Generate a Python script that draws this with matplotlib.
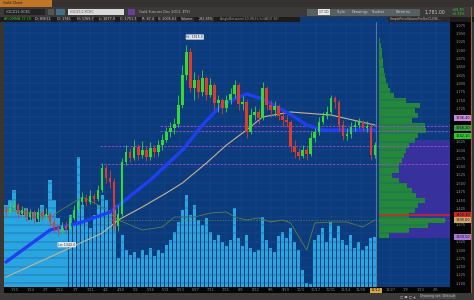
import matplotlib
matplotlib.use('Agg')
import matplotlib.pyplot as plt
from matplotlib.patches import Rectangle
import matplotlib.transforms as mtransforms

# ---------------- data ----------------
closes = [1414,1426,1435,1408,1420,1399,1411,1393,1414,1402,
          1408,1384,1366,1357,1372,1363,1396,1420,1444,1456,
          1444,1462,1453,1480,1546,1516,1504,1372,1408,1564,
          1594,1576,1609,1585,1600,1579,1606,1594,1615,1630,
          1654,1666,1678,1735,1825,1894,1786,1810,1774,1816,
          1765,1795,1741,1750,1726,1750,1768,1795,1738,1744,
          1654,1705,1714,1696,1786,1735,1720,1732,1702,1690,
          1684,1612,1594,1582,1600,1588,1636,1654,1684,1702,
          1714,1756,1744,1675,1642,1648,1669,1675,1684,1666,
          1672,1585,1615]
highs = [1435,1444,1453,1441,1432,1426,1423,1420,1426,1423,
         1426,1414,1396,1378,1384,1387,1408,1435,1456,1474,
         1468,1480,1471,1495,1561,1555,1540,1516,1435,1576,
         1615,1606,1630,1618,1627,1612,1624,1615,1630,1648,
         1669,1684,1696,1765,1855,1915,1906,1834,1825,1840,
         1822,1816,1800,1765,1756,1765,1786,1810,1800,1762,
         1750,1726,1732,1723,1804,1792,1750,1747,1738,1717,
         1705,1690,1630,1606,1615,1612,1654,1666,1699,1714,
         1732,1765,1762,1750,1690,1666,1684,1690,1696,1690,
         1687,1678,1624]
lows = [1402,1408,1420,1396,1399,1387,1390,1381,1384,1390,
        1393,1372,1354,1342,1348,1351,1360,1390,1414,1435,
        1432,1438,1441,1447,1474,1501,1486,1354,1357,1402,
        1555,1564,1570,1570,1576,1567,1570,1579,1582,1600,
        1624,1639,1648,1669,1726,1810,1774,1750,1756,1762,
        1750,1759,1720,1714,1708,1714,1738,1756,1720,1720,
        1636,1648,1690,1678,1690,1720,1699,1702,1690,1672,
        1669,1594,1576,1570,1576,1570,1582,1624,1645,1678,
        1693,1708,1726,1657,1630,1630,1636,1657,1666,1657,
        1654,1570,1576]
first_open = 1420
opens = [first_open] + closes[:-1]

volume = [164,174,194,154,144,158,134,150,130,164,
          144,214,174,138,124,114,144,124,260,164,
          134,118,144,164,184,174,154,164,58,104,
          74,64,70,58,74,64,78,62,74,68,
          84,94,110,130,154,184,144,164,134,124,
          138,110,94,104,90,82,94,158,98,82,
          104,78,70,74,140,94,78,70,102,110,
          98,118,90,74,34,8,6,94,104,118,
          90,130,98,122,94,84,104,78,90,74,
          82,98,100]
vol_ma_idx = [0,7,11,19,24,28,34,39,42,47,51,55,57,60,63,66,69,71,75,77,81,85,89,92]
vol_ma = [154,148,140,180,160,134,114,120,140,140,148,150,140,134,138,130,134,128,74,128,130,130,120,134]

ma_blue_idx = [0,11,19,26,36,44,49,54,60,64,69,72,75,79,85,92]
ma_blue = [1264,1360,1384,1414,1510,1600,1675,1738,1768,1753,1720,1699,1675,1660,1660,1660]
ma_tan_idx = [0,11,24,28,34,40,44,50,55,60,64,71,81,92]
ma_tan = [1219,1279,1351,1390,1429,1471,1501,1561,1615,1660,1699,1714,1705,1675]

profile_prices = [1930,1915,1900,1885,1870,1855,1840,1825,1810,1795,1780,1765,1750,1735,1720,
                  1705,1690,1675,1660,1645,1630,1615,1600,1585,1570,1555,1540,1525,1510,1495,
                  1480,1465,1450,1435,1420,1405,1390,1375,1360,1345]
profile_vol = [1,2,3,3,4,4,5,6,7,9,11,15,27,42,37,40,33,47,48,40,36,30,27,25,23,20,20,13,20,28,
               33,38,47,40,36,30,67,50,30,10]
value_area = (1336, 1630)
poc_price = 1405

level_lines = [1672, 1657, 1612, 1558]
level_starts = [38.5, 38.5, 23.5, 23.5]
olive_line = 1390

axis_tags = [1696, 1666, 1642, 1405, 1390, 1339]
axis_tag_text = ['1696.40', '1666.20', '1642.10', '1405.30', '1390.00', '1339.50']
axis_tag_colors = ['#c98be0', '#3d9a46', '#2ec62e', '#c82828', '#c9a66a', '#a77ad8']

date_labels = ['1/10','1/24','2/7','2/22','3/7','3/21','4/4','4/18','5/2','5/16','5/31','6/13',
               '6/27','7/11','7/25','8/8','8/22','9/6','9/19','10/3','10/17','10/31','11/14',
               '11/28','12/12','12/27','1/9','1/23','2/6']
current_date_index = 24

# ---------------- figure ----------------
W, H = 474, 300
fig = plt.figure(figsize=(W / 100, H / 100), dpi=100)
fig.patch.set_facecolor('#3a3633')
FONT = 'DejaVu Sans'


def fx(px):
    return px / W


def fy(py):
    return 1 - py / H


def rect(x0, y0, x1, y1, color, z=0):
    fig.patches.append(Rectangle((fx(x0), fy(y1)), (x1 - x0) / W, (y1 - y0) / H,
                                 transform=fig.transFigure, facecolor=color,
                                 edgecolor='none', zorder=z))


def ftext(px, py, s, color='#c8c8c8', size=2.8, ha='left', va='center', weight='normal', bg=None):
    kw = {}
    if bg:
        kw['bbox'] = dict(boxstyle='square,pad=0.15', fc=bg, ec='none')
    fig.text(fx(px), fy(py), s, color=color, fontsize=size, ha=ha, va=va,
             family=FONT, fontweight=weight, **kw)


# chrome
rect(0, 0, 474, 7, '#353230')
rect(0, 0, 52, 7, '#c07624')
ftext(3, 3.5, 'Gold Chart', color='#1a1a1a', size=2.6)
rect(0, 6.6, 474, 7.4, '#a9611f')
rect(0, 7.4, 474, 16.5, '#3c3a38')
rect(4, 9, 45, 15, '#232323')
ftext(6, 12, '/GCZ11:XCEC', color='#bdbdbd', size=2.6)
rect(48, 9, 54, 15, '#555555')
rect(56, 9, 65, 15, '#3f6f8a')
rect(68, 9, 124, 15, '#d9d9d9')
ftext(70, 12, '/GCZ11:XCEC', color='#555555', size=2.5)
rect(128, 9, 135, 15, '#6a3d9e')
ftext(139, 12, 'Gold Futures Dec 2011, ETH', color='#bbbbbb', size=2.6)
rect(307, 8.5, 420, 15.5, '#566060')
rect(318, 9.5, 330, 14.5, '#e6e6e6')
ftext(319, 12, '1Y 1D', color='#333333', size=2.3)
ftext(337, 12, 'Style', color='#d0d0d0', size=2.5)
ftext(352, 12, 'Drawings', color='#d0d0d0', size=2.5)
ftext(372, 12, 'Studies', color='#d0d0d0', size=2.5)
ftext(396, 12, 'Patterns', color='#d0d0d0', size=2.5)
ftext(424, 12, '1,781.00', color='#c8c8c8', size=3.3)
ftext(452, 10, '+29.70', color='#3fd13f', size=2.4)
ftext(452, 14, '+1.71%', color='#3fd13f', size=2.4)

rect(0, 16.5, 474, 22, '#1c1c1c')
rect(300, 16.5, 388, 22, '#0b3b7d')
ftext(4, 19.3, 'AF/GMMA 1Y 1D', color='#38c838', size=2.4)
info = ['D: 8/9/11', 'O: 1745', 'H: 1769.7', 'L: 1677.9', 'C: 1751.3', 'R: 87.4', 'V: 2005.61',
        'Volume', '282.85%']
xs = [35, 57, 77, 99, 120, 142, 158, 181, 199]
for s, x in zip(info, xs):
    ftext(x, 19.3, s, color='#cfcfcf', size=2.4, bg='#2b2b2b')
ftext(220, 19.3, 'AngleBetween(10,98,FL,hi)(ADX 30)', color='#8fa08f', size=2.3)
rect(388, 16.5, 450, 22, '#2a2a2a')
ftext(390, 19.3, 'SimplePriceVolumeProfile(CLOSE...', color='#bdbdbd', size=2.2)

# right border (orange) and frame
rect(470.5, 7.4, 471.5, 300, '#a9611f')

# price scale background, date axis background
rect(450, 22, 470.5, 292.5, '#050505')
rect(4, 287, 450, 292.5, '#050505')
rect(0, 292.5, 474, 300, '#3c3a38')
ftext(400, 296.3, '\u25a1 \u25a0 \u25a1 \u25b2', color='#aaaaaa', size=2.4)
ftext(420, 296.3, 'Drawing set: Default', color='#bdbdbd', size=2.4, bg='#4a4a48')

# ---------------- axes ----------------
L, R, T, B = 4, 450, 22, 287
pos = [fx(L), fy(B), (R - L) / W, (B - T) / H]
XL = (-0.5, 110.75)
YL = (1189, 1984)
idx = list(range(len(closes)))

vol_ax = fig.add_axes(pos, zorder=1)
vol_ax.set_facecolor('#0b3b7d')
vol_ax.set_xlim(*XL)
vol_ax.set_ylim(0, 530)
vol_ax.bar(idx, volume, width=0.82, color='#29a6e0', linewidth=0, zorder=2)
vol_ax.plot(vol_ma_idx, vol_ma, color='#5f7f45', lw=0.6, zorder=3)
for s in vol_ax.spines.values():
    s.set_visible(False)
vol_ax.set_yticks([])
tick_pos = [2.25 + 3.75 * k for k in range(len(date_labels))]
vol_ax.set_xticks(tick_pos)
shown_dates = ['' if k == current_date_index else d for k, d in enumerate(date_labels)]
vol_ax.set_xticklabels(shown_dates, fontsize=2.5, color='#8a8a8a', family=FONT)
vol_ax.tick_params(axis='x', length=0, pad=1.0)
vol_ax.grid(True, axis='x', color='#1c4c8c', lw=0.35, zorder=0)

prof_ax = fig.add_axes([fx(379), fy(B), 71 / W, (B - T) / H], zorder=2)
prof_ax.patch.set_alpha(0)
prof_ax.set_xlim(0, 72)
prof_ax.set_ylim(*YL)
prof_ax.axhspan(value_area[0], value_area[1], color='#3a2f9f', lw=0, zorder=1)
prof_ax.barh(profile_prices, profile_vol, height=15, color='#23883a', linewidth=0, zorder=2)
prof_ax.axhline(poc_price, color='#d42424', lw=1.1, zorder=3)
prof_ax.axis('off')

price_ax = fig.add_axes(pos, zorder=3)
price_ax.patch.set_alpha(0)
price_ax.set_xlim(*XL)
price_ax.set_ylim(*YL)
for s in price_ax.spines.values():
    s.set_visible(False)
price_ax.set_xticks([])
price_ax.grid(True, axis='y', color='#1c4c8c', lw=0.35)
price_ax.yaxis.tick_right()
yt = list(range(1200, 1976, 25))
price_ax.set_yticks(yt)
yl = ['' if any(abs(v - t) < 13 for t in axis_tags) else f'{v:,}' for v in yt]
price_ax.set_yticklabels(yl, fontsize=2.6, color='#8c8c8c', family=FONT)
price_ax.tick_params(axis='y', length=0, pad=4)

# horizontal level lines
for lvl, st in zip(level_lines, level_starts):
    price_ax.hlines(lvl, st, XL[1], colors='#a24ad6', lw=0.6, linestyles=(0, (3, 1.5)), zorder=2)
price_ax.hlines(olive_line, 23.5, XL[1], colors='#6f7f3a', lw=0.5, linestyles=(0, (2, 2)), zorder=2)

# moving averages
price_ax.plot(ma_tan_idx, ma_tan, color='#c9b28e', lw=0.8, zorder=3)
price_ax.plot(ma_blue_idx, ma_blue, color='#1f3ff2', lw=2.4, zorder=3, solid_capstyle='round')

# candles
for i in idx:
    o, c, h, l = opens[i], closes[i], highs[i], lows[i]
    col = '#35d835' if c >= o else '#e03a2a'
    price_ax.vlines(i, l, h, colors=col, lw=0.6, zorder=4)
    price_ax.bar(i, max(abs(c - o), 1.5), bottom=min(o, c), width=0.6, color=col,
                 linewidth=0, zorder=5)

# current bar marker
price_ax.axvline(idx[-1] + 0.4, color='#8fa4bb', lw=0.4, zorder=2)

# hi / lo bubbles
hi_i = highs.index(max(highs))
lo_i = lows.index(min(lows))
price_ax.text(hi_i, max(highs) + 18, f'Hi: {max(highs):.1f}', fontsize=2.3, color='#203040',
              ha='left', va='bottom', family=FONT, zorder=6,
              bbox=dict(boxstyle='round,pad=0.2', fc='#dfe6ee', ec='none'))
price_ax.text(lo_i, min(lows) - 20, f'Lo: {min(lows):.1f}', fontsize=2.3, color='#203040',
              ha='left', va='top', family=FONT, zorder=6,
              bbox=dict(boxstyle='round,pad=0.2', fc='#dfe6ee', ec='none'))

# price tags on the right scale
trans = mtransforms.blended_transform_factory(price_ax.transAxes, price_ax.transData)
for p, s, c in zip(axis_tags, axis_tag_text, axis_tag_colors):
    price_ax.text(1.012, p, s, transform=trans, fontsize=2.5, color='#111111', ha='left',
                  va='center', family=FONT, zorder=7, clip_on=False,
                  bbox=dict(boxstyle='square,pad=0.25', fc=c, ec='none'))

# current date tag (replaces the tick label at the same spot)
price_ax.text(tick_pos[current_date_index], -0.005, date_labels[current_date_index],
              transform=mtransforms.blended_transform_factory(price_ax.transData, price_ax.transAxes),
              fontsize=2.5, color='#111111', ha='center', va='top', family=FONT, clip_on=False,
              zorder=7, bbox=dict(boxstyle='square,pad=0.2', fc='#d9a545', ec='none'))

fig.savefig('out.png', dpi=100, facecolor=fig.get_facecolor())
